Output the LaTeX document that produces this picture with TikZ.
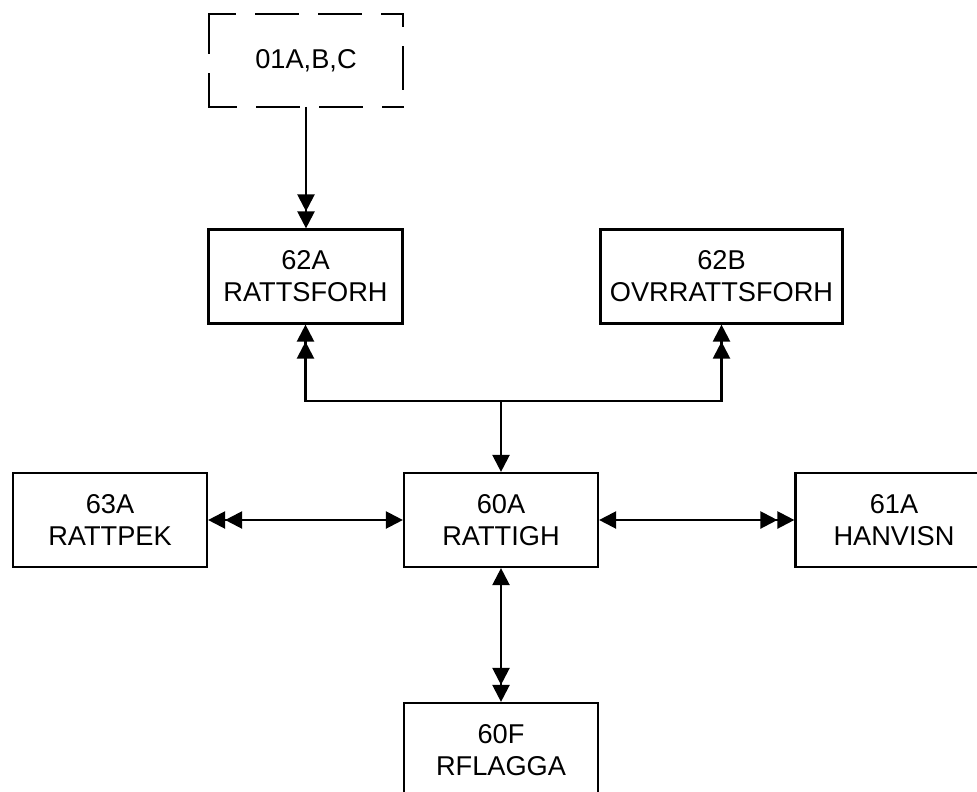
\documentclass[tikz,border=0pt]{standalone}
\usepackage{fontspec}
\setmainfont{Liberation Sans}
\usetikzlibrary{arrows.meta}
\tikzset{
  box/.style={draw, line width=2.2pt, rectangle, minimum width=194pt, minimum height=94pt,
    inner sep=0pt, align=center, font=\fontsize{27.2pt}{32pt}\selectfont},
  dbox/.style={rectangle, minimum width=193pt, minimum height=92.5pt, inner sep=0pt,
    align=center, font=\fontsize{27.2pt}{32pt}\selectfont},
  dside/.style={line width=2.2pt, dash pattern=on 42pt off 21pt, line cap=rect},
  conn/.style={line width=2.3pt, line join=miter},
  T/.tip={Triangle[length=17pt,width=17pt]},
  TT/.tip={Triangle[length=17pt,width=17pt] Triangle[length=17pt,width=17pt]},
}
\begin{document}
\begin{tikzpicture}[x=1pt,y=-1pt]
\useasboundingbox (0,0) rectangle (977,792);
\clip (0,0) rectangle (977,792);
\fill[white] (0,0) rectangle (977,792);
% nodes
\node[dbox] (d) at (306,60.5) {01A,B,C};
\node[box] (a62) at (305.5,276.5) {62A\\RATTSFORH};
\node[box, minimum width=242pt] (b62) at (721.5,276.5) {62B\\OVRRATTSFORH};
\node[box] (a63) at (110,520) {63A\\RATTPEK};
\node[box] (a60) at (501,520) {60A\\RATTIGH};
\node[box, minimum width=197pt] (a61) at (894,520) {61A\\HANVISN};
\node[box] (f60) at (501,750) {60F\\RFLAGGA};
% dashed border
\draw[dside, dash phase=16pt] (d.north west) -- (d.north east);
\draw[dside, dash phase=15pt] (d.south west) -- (d.south east);
\draw[dside, dash phase=3pt] (d.north west) -- (d.south west);
\draw[dside, dash phase=30pt] (d.north east) -- (d.south east);
% connectors
\coordinate (j) at (501,401);
\draw[conn, -TT] (d.south) -- (d.south |- a62.north);
\draw[conn, TT-TT] (a62.south) |- (j) -| (b62.south);
\draw[conn, -T] (j) -- (a60.north);
\draw[conn, TT-T] (a63.east) -- (a60.west);
\draw[conn, T-TT] (a60.east) -- (a61.west);
\draw[conn, T-TT] (a60.south) -- (f60.north);
\end{tikzpicture}
\end{document}
